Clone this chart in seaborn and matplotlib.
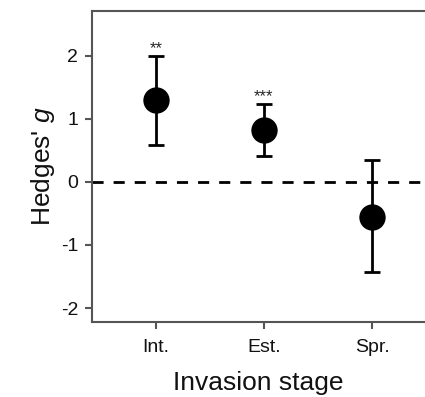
import pandas as pd
import matplotlib
matplotlib.use("Agg")
import matplotlib.pyplot as plt
import seaborn as sns

# effect sizes per invasion stage
stages = ["Int.", "Est.", "Spr."]
hedges_g = [1.30, 0.83, -0.55]
ci_low = [0.59, 0.41, -1.43]
ci_high = [2.00, 1.24, 0.35]
signif = ["**", "***", ""]

df = pd.DataFrame({"stage": stages, "g": hedges_g, "lo": ci_low, "hi": ci_high})

sns.set_style("ticks")
plt.rcParams["font.family"] = ["Liberation Sans", "DejaVu Sans"]
plt.rcParams["mathtext.fontset"] = "custom"
plt.rcParams["mathtext.it"] = "Liberation Sans:italic"
plt.rcParams["mathtext.rm"] = "Liberation Sans"
plt.rcParams["axes.unicode_minus"] = False

fig = plt.figure(figsize=(4.25, 3.97), dpi=100)
ax = fig.add_axes([0.2165, 0.189, 0.7835, 0.7835])

ax.axhline(0, color="black", lw=2, dashes=(4, 3.6), zorder=1)

ax.errorbar(df["stage"], df["g"],
            yerr=[df["g"] - df["lo"], df["hi"] - df["g"]],
            fmt="none", ecolor="black", elinewidth=2, capsize=6, capthick=2, zorder=2)
sns.scatterplot(data=df, x="stage", y="g", color="black", s=360, edgecolor="black",
                linewidth=0, ax=ax, zorder=3, legend=False)

for i, s in enumerate(signif):
    if s:
        ax.annotate(s, (i, ci_high[i]), xytext=(0, 0), textcoords="offset points",
                    ha="center", va="bottom", fontsize=12)

ax.set_xlim(-0.59, 2.49)
ax.set_ylim(-2.22, 2.71)
ax.set_yticks([-2, -1, 0, 1, 2])
ax.set_xlabel("Invasion stage", fontsize=19, labelpad=11, color="#111111")
ax.set_ylabel("Hedges' $\\it{g}$", fontsize=19, labelpad=3, color="#111111")
ax.tick_params(labelsize=14, length=5, width=1.5, color="#555555", labelcolor="#111111")
ax.tick_params(axis="x", pad=7)
ax.tick_params(axis="y", pad=5)

for side in ["left", "bottom", "top"]:
    ax.spines[side].set_color("#555555")
    ax.spines[side].set_linewidth(1.5)
ax.spines["right"].set_visible(False)

fig.savefig("out.png", dpi=100)
